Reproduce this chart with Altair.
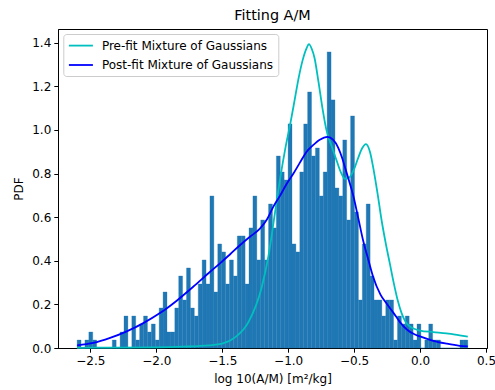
import altair as alt
import pandas as pd
import numpy as np

# ---- data ----
hist_counts = [1, 0, 1, 2, 1, 0, 0, 0, 0, 1, 0, 2, 4, 0, 4, 1,
               3, 4, 2, 3, 1, 5, 7, 2, 2, 5, 9, 6, 10, 5, 4, 8, 11, 8, 19,
               7, 13, 12, 8, 11, 9, 14, 14, 8, 15, 19, 11, 16, 11, 18, 15, 24, 22,
               21, 28, 13, 12, 22, 28, 32, 24, 25, 19, 22, 37, 31, 20, 19, 26, 16, 29, 17,
               6, 13, 18, 9, 6, 6, 4, 6, 6,
               1, 4, 3, 4, 3, 1, 3, 0, 1, 3, 1, 1, 0, 0, 0, 0, 0, 1, 1]
hist_lo = -2.600
hist_hi = 0.362

pre_x = [-2.600, -2.3, -2.0, -1.8, -1.6, -1.5, -1.4, -1.3, -1.2, -1.15, -1.1, -1.06,
         -1.02, -0.98, -0.95, -0.92, -0.89, -0.86, -0.843, -0.82, -0.8, -0.77,
         -0.74, -0.71, -0.67, -0.63, -0.6, -0.57, -0.54, -0.5, -0.47, -0.44, -0.41,
         -0.38, -0.35, -0.32, -0.29, -0.26, -0.23, -0.2, -0.17, -0.14, -0.11, -0.08,
         -0.04, 0.0, 0.1, 0.2, 0.3, 0.362]
pre_y = [0.001, 0.002, 0.003, 0.006, 0.012, 0.02, 0.05, 0.12, 0.28, 0.42, 0.62, 0.78,
         0.92, 1.04, 1.14, 1.24, 1.32, 1.375, 1.393, 1.37, 1.33, 1.22,
         1.1, 1.0, 0.925, 0.855, 0.805, 0.776, 0.78, 0.82, 0.87, 0.915, 0.935,
         0.9, 0.81, 0.7, 0.58, 0.48, 0.39, 0.3, 0.22, 0.16, 0.12, 0.1,
         0.087, 0.08, 0.073, 0.067, 0.058, 0.052]

post_x = [-2.600, -2.477, -2.35, -2.224, -2.098, -1.972, -1.845, -1.72, -1.6, -1.517,
          -1.44, -1.366, -1.29, -1.214, -1.16, -1.114, -1.06, -1.012, -0.96, -0.911,
          -0.86, -0.811, -0.76, -0.702, -0.66, -0.621, -0.59, -0.57, -0.54, -0.507,
          -0.47, -0.432, -0.39, -0.356, -0.3, -0.255, -0.2, -0.154, -0.1, -0.05,
          0.0, 0.1, 0.2, 0.3, 0.362]
post_y = [0.012, 0.023, 0.046, 0.076, 0.114, 0.16, 0.217, 0.281, 0.345, 0.388,
          0.43, 0.471, 0.51, 0.547, 0.59, 0.646, 0.70, 0.752, 0.80, 0.85,
          0.90, 0.93, 0.955, 0.968, 0.955, 0.919, 0.87, 0.83, 0.77, 0.70,
          0.60, 0.494, 0.40, 0.327, 0.245, 0.205, 0.16, 0.12, 0.085, 0.065,
          0.053, 0.033, 0.02, 0.01, 0.007]

series_names = ["Pre-fit Mixture of Gaussians", "Post-fit Mixture of Gaussians"]
series_colors = ["#00bfbf", "#0000ff"]
x_ticks = [-2.5, -2.0, -1.5, -1.0, -0.5, 0.0, 0.5]
y_ticks = [0.0, 0.2, 0.4, 0.6, 0.8, 1.0, 1.2, 1.4]

# ---- tables ----
edges = np.linspace(hist_lo, hist_hi, len(hist_counts) + 1)
bw = edges[1] - edges[0]
counts = np.array(hist_counts, dtype=float)
dens = counts / (counts.sum() * bw)
hist = pd.DataFrame({"x0": edges[:-1], "x1": edges[1:], "d": dens, "z": 0.0})

lines = pd.concat([
    pd.DataFrame({"x": pre_x, "y": pre_y, "s": series_names[0], "o": range(len(pre_x))}),
    pd.DataFrame({"x": post_x, "y": post_y, "s": series_names[1], "o": range(len(post_x))}),
])

FONT = "DejaVu Sans"
xs = alt.Scale(domain=[-2.745, 0.5076], nice=False, zero=False)
ys = alt.Scale(domain=[0, 1.4627], nice=False, zero=False)
minus = "replace(datum.label, '-', '\u2212')"

x_axis = alt.Axis(values=x_ticks, format=".1f", labelExpr=minus,
                  title="log 10(A/M) [m\u00b2/kg]", titlePadding=7, labelPadding=3)
y_axis = alt.Axis(values=y_ticks, format=".1f", title="PDF", titlePadding=6, labelPadding=3)

bars = alt.Chart(hist).mark_rect(color="#1f77b4", stroke="#1f77b4", strokeWidth=0.3).encode(
    x=alt.X("x0:Q", scale=xs, axis=x_axis),
    x2="x1:Q",
    y=alt.Y("d:Q", scale=ys, axis=y_axis),
    y2="z:Q",
)

curves = alt.Chart(lines).mark_line(strokeWidth=1.8, interpolate="monotone").encode(
    x=alt.X("x:Q", scale=xs),
    y=alt.Y("y:Q", scale=ys),
    order="o:Q",
    color=alt.Color("s:N", scale=alt.Scale(domain=series_names, range=series_colors),
                    sort=series_names,
                    legend=alt.Legend(title=None, orient="none", legendX=5.3, legendY=5,
                                      symbolType="M-2,0H2", symbolSize=144,
                                      symbolStrokeWidth=1.8, symbolOffset=6,
                                      labelOffset=14, labelLimit=400,
                                      labelFont=FONT, labelFontSize=12,
                                      labelColor="black", rowPadding=6.4, padding=4.6,
                                      strokeColor="#cccccc", fillColor="#ffffff",
                                      cornerRadius=3)),
)

chart = alt.layer(bars, curves).properties(
    width=429, height=319,
    title=alt.TitleParams("Fitting A/M", font=FONT, fontSize=14.4, fontWeight="normal",
                          anchor="middle", baseline="alphabetic", offset=8.6, dy=14,
                          color="black"),
    padding={"left": 58, "top": 29, "right": 8, "bottom": 42},
    autosize=alt.AutoSizeParams(type="none"),
).configure_view(stroke="black", strokeWidth=1).configure_axis(
    domainColor="black", tickColor="black", labelColor="black", titleColor="black",
    labelFont=FONT, titleFont=FONT, labelFontSize=12, titleFontSize=12,
    titleFontWeight="normal", tickSize=4.2, grid=False, domainWidth=1, tickWidth=1,
)

chart.save("out.html", embed_options={"renderer": "svg", "actions": False})
